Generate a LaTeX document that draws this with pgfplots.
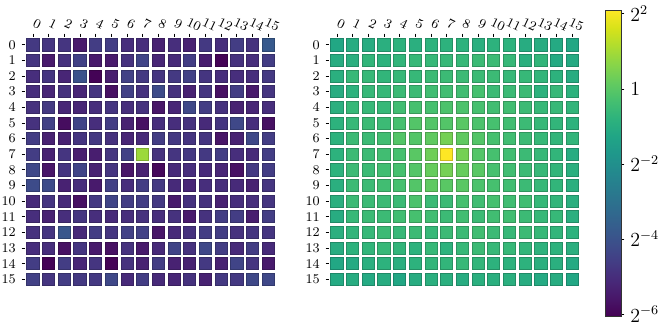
\documentclass[border=0pt]{standalone}
\usepackage{pgfplots}
\pgfplotsset{compat=1.18}
\usepackage{pgfplotstable}

% log2 of the cell values, rows 0..15 (top to bottom), columns 0..15
\pgfplotstableread{
r c0 c1 c2 c3 c4 c5 c6 c7 c8 c9 c10 c11 c12 c13 c14 c15
0 -4.7 -4.8 -4.8 -5.5 -4.6 -4.6 -5.0 -5.0 -5.3 -5.0 -5.3 -4.7 -5.0 -4.6 -4.9 -3.8
1 -4.8 -5.5 -4.9 -4.5 -5.5 -5.5 -4.9 -4.4 -5.2 -5.1 -4.6 -5.4 -6.0 -4.9 -5.0 -4.6
2 -5.0 -4.8 -5.2 -4.0 -6.0 -5.4 -4.5 -4.7 -4.8 -4.7 -4.5 -4.8 -5.0 -5.0 -5.0 -4.7
3 -5.0 -5.2 -4.9 -5.2 -4.8 -5.7 -4.5 -4.9 -4.2 -4.9 -5.3 -4.8 -5.7 -4.6 -5.5 -4.8
4 -4.9 -4.7 -5.2 -5.2 -5.0 -4.8 -5.0 -4.9 -5.6 -5.2 -4.3 -4.6 -4.9 -5.3 -5.2 -5.0
5 -4.9 -4.5 -5.8 -4.4 -5.0 -4.6 -5.3 -5.7 -5.0 -5.0 -4.9 -5.1 -4.8 -4.3 -5.0 -5.7
6 -4.6 -5.3 -5.3 -4.8 -4.7 -4.9 -5.2 -5.1 -4.6 -4.7 -4.8 -4.8 -5.6 -5.3 -4.3 -4.6
7 -4.6 -5.3 -4.8 -5.4 -5.4 -4.8 -4.5 0.9 -4.9 -4.8 -4.7 -4.7 -4.6 -5.0 -5.1 -4.6
8 -4.3 -5.6 -4.8 -4.4 -5.3 -4.8 -5.6 -5.3 -5.9 -5.1 -5.0 -5.1 -5.2 -5.7 -4.7 -4.6
9 -4.2 -4.2 -5.3 -5.0 -5.5 -4.5 -5.0 -4.6 -4.7 -5.1 -5.2 -5.0 -5.0 -5.1 -5.3 -4.8
10 -5.1 -4.8 -5.1 -5.7 -4.7 -4.4 -4.6 -4.6 -4.7 -5.5 -4.9 -4.9 -5.3 -5.0 -5.0 -4.8
11 -5.0 -5.3 -5.0 -4.8 -5.0 -5.1 -5.0 -4.9 -5.0 -4.9 -5.5 -4.9 -4.6 -4.6 -5.4 -4.6
12 -4.9 -4.8 -3.9 -5.1 -4.6 -4.8 -4.5 -4.5 -5.6 -5.1 -4.9 -4.6 -4.6 -4.9 -4.8 -4.8
13 -5.0 -5.0 -5.7 -4.8 -5.5 -5.7 -4.9 -5.5 -5.1 -4.4 -4.9 -4.3 -4.6 -5.1 -4.6 -5.1
14 -4.6 -6.0 -4.6 -5.2 -4.8 -6.0 -4.9 -5.3 -4.6 -5.3 -5.3 -4.7 -5.3 -4.4 -4.8 -5.5
15 -4.5 -4.8 -4.6 -4.7 -4.7 -4.3 -5.1 -4.6 -5.1 -5.2 -4.9 -5.3 -4.7 -4.7 -4.3 -4.3
}\lefttab

\pgfplotstableread{
r c0 c1 c2 c3 c4 c5 c6 c7 c8 c9 c10 c11 c12 c13 c14 c15
0 -1.2 -1.0 -1.0 -0.9 -0.8 -0.9 -0.8 -0.8 -0.8 -0.9 -0.8 -0.8 -1.0 -1.0 -1.1 -1.2
1 -1.0 -0.9 -0.7 -0.8 -0.7 -0.6 -0.6 -0.6 -0.6 -0.5 -0.5 -0.6 -0.9 -0.7 -1.1 -1.1
2 -0.9 -0.6 -0.6 -0.7 -0.6 -0.6 -0.5 -0.5 -0.5 -0.5 -0.5 -0.6 -0.6 -0.7 -0.8 -1.0
3 -1.0 -0.8 -0.6 -0.6 -0.5 -0.5 -0.4 -0.4 -0.4 -0.3 -0.5 -0.5 -0.5 -0.8 -0.6 -0.8
4 -0.9 -0.6 -0.6 -0.6 -0.4 -0.3 -0.3 -0.2 -0.2 -0.3 -0.4 -0.4 -0.5 -0.6 -0.6 -0.7
5 -0.8 -0.6 -0.5 -0.5 -0.3 -0.1 -0.1 -0.1 0.0 -0.2 -0.3 -0.4 -0.5 -0.6 -0.7 -0.8
6 -0.8 -0.5 -0.5 -0.4 -0.1 -0.1 0.1 0.4 0.1 -0.1 -0.3 -0.4 -0.5 -0.6 -0.7 -0.7
7 -0.8 -0.5 -0.5 -0.4 -0.3 0.0 0.3 2.1 0.4 -0.1 -0.3 -0.4 -0.5 -0.6 -0.7 -1.0
8 -0.8 -0.5 -0.5 -0.4 -0.3 -0.1 0.2 0.4 0.2 0.0 -0.3 -0.4 -0.5 -0.6 -0.7 -0.9
9 -0.9 -0.5 -0.5 -0.4 -0.3 -0.1 0.1 0.0 0.0 -0.2 -0.3 -0.4 -0.5 -0.6 -0.7 -0.9
10 -0.9 -0.5 -0.5 -0.5 -0.5 -0.2 -0.5 -0.5 -0.3 -0.4 -0.3 -0.4 -0.4 -0.6 -0.7 -0.9
11 -1.0 -0.6 -0.5 -0.5 -0.4 -0.3 -0.4 -0.5 -0.4 -0.5 -0.4 -0.4 -0.5 -0.6 -0.6 -0.9
12 -0.9 -0.7 -0.6 -0.5 -0.6 -0.5 -0.6 -0.5 -0.5 -0.4 -0.5 -0.6 -0.5 -0.6 -0.7 -0.8
13 -1.0 -0.8 -0.7 -0.6 -0.7 -0.8 -0.6 -0.8 -0.6 -0.5 -0.6 -0.6 -0.7 -0.8 -0.8 -0.9
14 -1.2 -1.1 -0.9 -0.8 -0.9 -0.8 -0.7 -0.7 -0.6 -0.7 -0.8 -0.8 -0.8 -0.9 -0.9 -1.1
15 -1.1 -1.0 -1.1 -1.0 -1.2 -1.0 -0.9 -0.9 -1.0 -0.9 -0.9 -0.9 -1.0 -1.1 -1.0 -1.2
}\righttab

\pgfplotsset{
  heat/.style={
    scale only axis,
    width=150.6pt, height=150pt,
    xmin=-0.5, xmax=15.5, ymin=-0.5, ymax=15.5,
    enlargelimits=false,
    colormap/viridis,
    point meta min=-6.05, point meta max=2.1,
    axis x line*=top, axis y line*=left,
    axis line style={draw=none},
    tick align=outside,
    major tick length=2pt,
    tick style={black, line width=0.4pt},
    xtick={0,...,15},
    ytick={0,...,15},
    yticklabels={15,14,13,12,11,10,9,8,7,6,5,4,3,2,1,0},
    xticklabel style={rotate=-25, anchor=south, font=\fontsize{8}{9}\selectfont},
    yticklabel style={font=\fontsize{8}{9}\selectfont},
    clip=false,
  },
  cell/.style={scatter, only marks, mark=square*, mark size=3.65pt, point meta=explicit},
}

\begin{document}
\begin{tikzpicture}
\path[use as bounding box] (0,0) rectangle (398.4pt,196.2pt);

% left map
\begin{axis}[heat, at={(15pt,24pt)}, anchor=south west]
\pgfplotsinvokeforeach{0,...,15}{
  \addplot[cell] table[x expr=#1, y expr=15-\thisrow{r}, meta=c#1] {\lefttab};
}
\end{axis}

% right map with colorbar
\begin{axis}[heat, at={(197.4pt,24pt)}, anchor=south west,
  colorbar,
  colorbar style={
    at={(parent axis.north east)}, anchor=north west,
    xshift=6.5pt, yshift=16.2pt,
    width=9.6pt, height=183.6pt,
    axis line style={draw=black!80, line width=0.5pt},
    ytick={-6,-4,-2,0,2},
    yticklabels={$2^{-6}$,$2^{-4}$,$2^{-2}$,$1$,$2^{2}$},
    ytick pos=right, yticklabel pos=right,
    tick align=outside, major tick length=2pt,
    yticklabel style={font=\fontsize{12}{13}\selectfont},
  }]
\pgfplotsinvokeforeach{0,...,15}{
  \addplot[cell] table[x expr=#1, y expr=15-\thisrow{r}, meta=c#1] {\righttab};
}
\end{axis}
\end{tikzpicture}
\end{document}
